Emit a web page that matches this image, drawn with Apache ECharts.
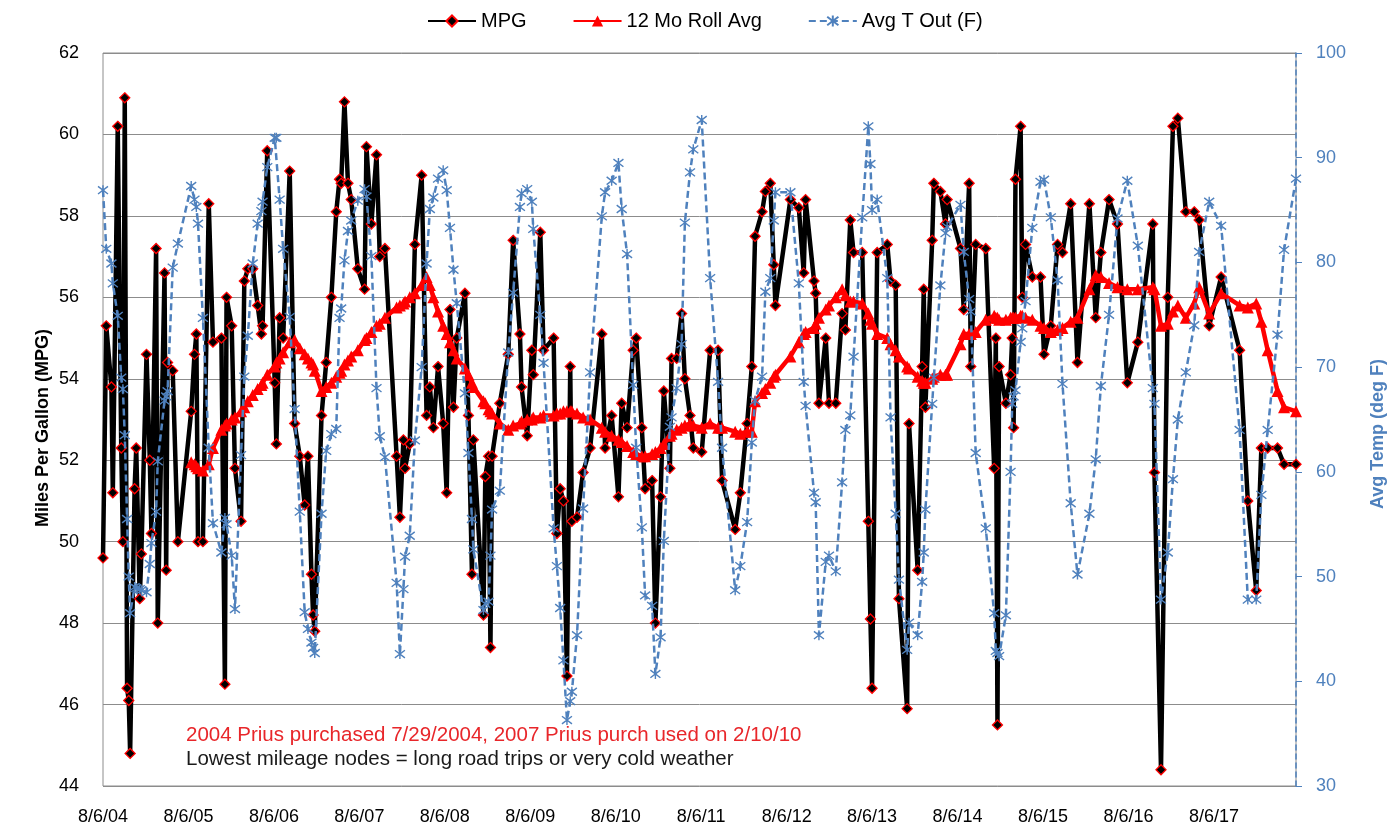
<!DOCTYPE html>
<html>
<head>
<meta charset="utf-8">
<title>Prius MPG history</title>
<script src="https://cdn.jsdelivr.net/npm/echarts@6/dist/echarts.min.js"></script>
<style>
  html, body { margin: 0; padding: 0; background: #fff; }
  #chart { width: 1392px; height: 832px; }
</style>
</head>
<body>
<div id="chart"></div>
<script>
// Fill-up dates
const fillDates = [
'2004-08-06','2004-08-20','2004-09-11','2004-09-17','2004-10-08','2004-10-23','2004-10-30','2004-11-07','2004-11-17','2004-11-24',
'2004-11-30','2004-12-19','2004-12-26','2005-01-10','2005-01-17','2005-02-08','2005-02-22','2005-03-01','2005-03-21','2005-03-28',
'2005-04-26','2005-05-03','2005-05-09','2005-05-31','2005-06-22','2005-08-18','2005-09-01','2005-09-09','2005-09-16','2005-10-07',
'2005-11-01','2005-11-19','2005-12-25','2006-01-09','2006-01-16','2006-02-07','2006-02-21','2006-03-19','2006-04-02','2006-04-17',
'2006-05-08','2006-05-29','2006-06-14','2006-06-19','2006-07-09','2006-08-10','2006-08-17','2006-08-31','2006-09-15','2006-10-13',
'2006-11-03','2006-11-25','2006-12-16','2006-12-30','2007-01-14','2007-01-21','2007-01-28','2007-02-26','2007-03-18','2007-04-09',
'2007-04-30','2007-05-14','2007-05-21','2007-06-04','2007-06-19','2007-07-03','2007-07-31','2007-08-29','2007-09-06','2007-09-27',
'2007-10-19','2007-11-02','2007-11-24','2008-01-13','2008-01-27','2008-02-11','2008-02-18','2008-03-09','2008-03-31','2008-04-29',
'2008-05-20','2008-06-03','2008-06-18','2008-07-08','2008-07-30','2008-08-14','2008-08-28','2008-09-12','2008-09-26','2008-10-31',
'2008-11-15','2008-11-30','2008-12-06','2009-01-18','2009-01-26','2009-02-09','2009-02-17','2009-02-24','2009-03-29','2009-05-04',
'2009-05-25','2009-06-23','2009-06-30','2009-07-24','2009-08-13','2009-08-19','2009-09-18','2009-10-02','2009-11-14','2009-11-28',
'2009-12-12','2009-12-26','2010-01-10','2010-01-24','2010-01-31','2010-02-22','2010-03-20','2010-04-19','2010-06-08','2010-06-22',
'2010-07-20','2010-08-18','2010-09-01','2010-09-24','2010-10-20','2010-11-02','2010-11-26','2010-12-10','2011-01-09','2011-01-23',
'2011-02-14','2011-02-28','2011-03-26','2011-04-02','2011-04-24','2011-05-15','2011-05-29','2011-06-20','2011-07-04','2011-08-09',
'2011-09-14','2011-10-18','2011-11-04','2011-12-30','2012-01-21','2012-02-19','2012-03-10','2012-03-24','2012-04-23','2012-05-07',
'2012-05-28','2012-06-12','2012-06-19','2012-08-22','2012-09-27','2012-10-18','2012-10-26','2012-12-01','2012-12-08','2012-12-22',
'2013-01-20','2013-02-03','2013-03-04','2013-03-31','2013-04-14','2013-05-05','2013-05-19','2013-06-25','2013-07-21','2013-07-30',
'2013-08-06','2013-08-28','2013-10-10','2013-10-24','2013-11-15','2013-11-29','2014-01-03','2014-01-11','2014-02-17','2014-03-08',
'2014-03-15','2014-03-22','2014-04-20','2014-04-27','2014-05-25','2014-06-16','2014-06-23','2014-08-19','2014-09-02','2014-09-25',
'2014-10-02','2014-10-23','2014-12-05','2015-01-10','2015-01-17','2015-01-24','2015-01-31','2015-03-01','2015-03-21','2015-03-28',
'2015-04-03','2015-04-11','2015-05-03','2015-05-10','2015-05-24','2015-06-22','2015-07-27','2015-08-11','2015-09-09','2015-10-08',
'2015-10-29','2015-12-03','2016-01-01','2016-02-21','2016-03-19','2016-04-10','2016-05-15','2016-06-20','2016-08-01','2016-09-15',
'2016-11-18','2016-11-25','2016-12-23','2017-01-21','2017-02-12','2017-03-05','2017-04-08','2017-05-14','2017-06-04','2017-07-17',
'2017-09-06','2017-11-24','2017-12-29','2018-02-03','2018-02-25','2018-03-24','2018-05-05','2018-06-02','2018-07-23'
];

// Miles per gallon for each tank
const mpgValues = [
49.6,55.3,53.8,51.2,60.2,52.3,50.0,60.9,46.4,46.1,
44.8,51.3,52.3,48.6,49.7,54.6,52.0,50.2,57.2,48.0,
56.6,49.3,54.4,54.2,50.0,53.2,54.6,55.1,50.0,50.0,
58.3,54.9,55.0,46.5,56.0,55.3,51.8,50.5,56.4,56.7,
56.7,55.8,55.1,55.3,59.6,53.9,52.4,55.5,55.0,59.1,
52.9,52.1,50.9,52.1,49.2,48.2,47.8,53.1,54.4,56.0,
58.1,58.9,58.8,60.8,58.8,58.4,56.7,56.2,59.7,57.8,
59.5,57.0,57.2,52.1,50.6,52.5,51.8,52.4,57.3,59.0,
53.1,53.8,52.8,54.3,52.9,51.2,55.7,53.3,55.0,56.1,
53.1,49.2,52.5,48.2,51.6,52.1,47.4,52.1,53.4,54.6,
57.4,55.1,53.8,52.6,54.7,54.1,57.6,54.7,55.0,50.2,
51.3,51.0,46.7,54.3,50.5,50.6,51.7,52.3,55.1,52.3,
53.1,51.1,53.4,52.8,54.7,55.0,52.8,51.3,51.5,48.0,
51.1,53.7,51.8,54.5,54.5,55.6,54.0,53.1,52.3,52.2,
54.7,54.7,51.5,50.3,51.2,52.9,54.3,57.5,58.1,58.6,
58.8,56.8,55.8,58.4,58.2,56.6,58.4,56.4,56.1,53.4,
55.0,53.4,53.4,55.6,55.2,57.9,57.1,57.1,50.5,48.1,
46.4,57.1,57.3,56.4,56.3,48.6,45.9,52.9,49.3,54.3,
56.2,53.3,57.4,58.8,58.6,57.8,58.4,57.2,55.7,58.8,
54.3,57.3,57.2,51.8,55.0,45.5,54.3,53.4,54.1,55.0,
52.8,58.9,60.2,56.0,57.3,56.5,56.5,54.6,55.3,57.3,
57.1,58.3,54.4,58.3,55.5,57.1,58.4,57.8,53.9,54.9,
57.8,51.7,44.4,56.0,60.2,60.4,58.1,58.1,57.9,55.3,
56.5,54.7,51.0,48.8,52.3,52.3,52.3,51.9,51.9
];

// 12 month rolling average of MPG (first year has no average yet)
const rollAvgValues = [
null,null,null,null,null,null,null,null,null,null,
null,null,null,null,null,null,null,null,null,null,
null,null,null,null,null,51.95,51.9,51.85,51.8,51.75,
51.9,52.3,52.75,52.85,52.9,53.0,53.05,53.2,53.3,53.45,
53.6,53.75,53.85,53.9,54.1,54.3,54.4,54.5,54.65,54.9,
54.95,54.75,54.6,54.5,54.4,54.35,54.2,53.7,53.8,53.9,
54.05,54.15,54.2,54.35,54.45,54.55,54.7,54.95,55.0,55.15,
55.3,55.35,55.5,55.75,55.8,55.85,55.9,56.0,56.1,56.3,
56.5,56.3,56.0,55.65,55.3,55.1,54.9,54.7,54.5,54.25,
54.1,53.9,53.8,53.45,53.4,53.25,53.2,53.15,52.9,52.75,
52.85,52.9,52.95,53.0,53.0,53.05,53.05,53.1,53.1,53.15,
53.15,53.2,53.2,53.2,53.2,53.15,53.05,53.0,52.8,52.7,
52.6,52.5,52.45,52.35,52.2,52.15,52.1,52.1,52.15,52.2,
52.3,52.4,52.6,52.65,52.75,52.8,52.85,52.9,52.85,52.8,
52.9,52.8,52.8,52.7,52.65,52.7,52.7,53.45,53.65,53.75,
53.9,54.05,54.1,54.55,54.9,55.1,55.15,55.25,55.35,55.5,
55.7,55.8,56.0,56.2,56.05,55.9,55.9,55.85,55.6,55.45,
55.35,55.1,55.0,54.85,54.7,54.55,54.3,54.25,54.05,53.95,
53.9,53.9,54.0,54.05,54.1,54.1,54.1,54.85,55.1,55.1,
55.1,55.15,55.45,55.55,55.5,55.5,55.45,55.45,55.5,55.5,
55.5,55.5,55.55,55.55,55.5,55.45,55.3,55.25,55.15,55.2,
55.25,55.4,55.5,56.2,56.55,56.5,56.35,56.25,56.2,56.2,
56.25,56.2,55.3,55.35,55.65,55.8,55.5,55.85,56.25,55.6,
56.1,55.8,55.75,55.85,55.4,54.7,53.7,53.3,53.2
];

// Average outdoor temperature over each tank (deg F)
const tempValues = [
86.9,81.3,79.9,78.0,74.9,69.0,67.9,63.5,55.5,50.0,
46.5,49.0,48.9,48.8,48.7,48.5,51.2,53.2,56.2,61.0,
66.8,67.2,67.7,79.5,81.8,87.3,86.0,85.3,83.7,74.7,
62.3,55.1,52.3,55.6,55.0,52.0,46.9,61.6,69.1,73.0,
79.9,83.7,84.9,85.8,89.1,91.9,91.9,86.0,81.3,74.8,
66.0,56.2,46.6,45.0,43.7,43.2,42.7,56.0,62.0,63.6,
64.1,74.7,75.6,80.2,83.0,84.0,85.9,87.0,86.3,80.6,
68.0,63.4,61.4,49.4,42.6,48.8,51.9,53.9,63.0,70.0,
79.9,85.1,86.2,88.0,88.8,86.9,83.3,79.3,76.1,67.5,
61.8,55.5,52.6,46.8,47.4,47.6,52.0,56.4,58.2,71.4,
77.1,85.3,86.6,87.0,85.8,83.2,75.0,70.4,54.6,51.0,
47.0,42.0,36.3,38.1,39.0,44.4,56.5,69.5,84.4,86.7,
87.8,89.5,85.1,80.8,68.3,62.3,54.7,48.2,47.2,40.7,
44.2,53.4,64.3,65.2,68.0,72.2,83.8,88.6,90.8,93.6,
78.5,68.6,62.3,48.7,51.0,55.2,62.8,66.8,69.1,77.2,
78.5,84.0,86.7,86.7,78.0,68.6,66.3,58.0,57.1,44.4,
51.4,52.0,50.5,59.0,64.0,65.4,71.0,84.3,93.0,89.4,
85.0,86.0,78.5,65.2,56.0,49.7,43.0,45.6,44.4,49.5,
52.3,56.4,66.5,69.0,77.8,82.8,83.4,85.5,81.0,76.5,
75.3,61.8,54.6,46.5,42.9,42.7,42.4,46.3,60.0,66.5,
67.2,67.8,72.4,73.7,76.3,83.3,87.7,87.9,84.3,78.3,
68.4,57.0,50.2,56.0,61.2,68.2,75.0,84.2,87.8,81.6,
68.0,66.5,47.8,52.3,59.3,65.0,69.5,74.0,81.0,85.8,
83.5,64.0,47.8,47.8,57.8,64.0,73.1,81.2,88.0
];

// Yearly tick labels along the date axis
const dateTickLabels = ['8/6/04','8/6/05','8/6/06','8/6/07','8/6/08','8/6/09','8/6/10',
                        '8/6/11','8/6/12','8/6/13','8/6/14','8/6/15','8/6/16','8/6/17'];

const noteLines = [
  '2004 Prius purchased 7/29/2004, 2007 Prius purch used on 2/10/10',
  'Lowest mileage nodes = long road trips or very cold weather'
];

// Dates become years elapsed since 8/6/04 so the yearly ticks land on 8/6 each year
const axisStart = Date.UTC(2004, 7, 6);
const YEAR_MS = 365.25 * 24 * 3600 * 1000;
function yearsSinceStart(iso) {
  const p = iso.split('-').map(Number);
  return (Date.UTC(p[0], p[1] - 1, p[2]) - axisStart) / YEAR_MS;
}
const xs = fillDates.map(yearsSinceStart);
const pairs = vals => xs.map((x, i) => [x, vals[i]]);

const FONT = "'Liberation Sans', Arial, sans-serif";
const BLUE = '#4F81BD';
const asterisk = 'path://M0,0L10,10M10,0L0,10M5,-1.5L5,11.5';

const chart = echarts.init(document.getElementById('chart'), null, { renderer: 'canvas' });
chart.setOption({
  animation: false,
  textStyle: { fontFamily: FONT },
  grid: {
    left: 103, right: 96, top: 53, bottom: 46,
    show: true, borderColor: '#8c8c8c', borderWidth: 1
  },
  legend: {
    top: 6, left: 422,
    itemWidth: 48, itemHeight: 14, itemGap: 46,
    textStyle: { fontSize: 20, color: '#000', fontFamily: FONT },
    data: ['MPG', '12 Mo Roll Avg', 'Avg T Out (F)']
  },
  xAxis: {
    type: 'value',
    min: 0,
    max: xs[xs.length - 1],
    interval: 1,
    axisLine: { show: false },
    axisTick: { show: false },
    splitLine: { show: false },
    axisLabel: {
      margin: 22, fontSize: 18, color: '#000', showMaxLabel: false,
      formatter: v => {
        const k = Math.round(v);
        return Math.abs(v - k) < 1e-6 && dateTickLabels[k] ? dateTickLabels[k] : '';
      }
    }
  },
  yAxis: [
    {
      type: 'value', min: 44, max: 62, interval: 2, position: 'left',
      axisLine: { show: false }, axisTick: { show: false },
      splitLine: { lineStyle: { color: '#8c8c8c', width: 1 } },
      axisLabel: { margin: 24, fontSize: 18, color: '#000' }
    },
    {
      type: 'value', min: 30, max: 100, interval: 10, position: 'right',
      axisLine: { show: true, lineStyle: { color: BLUE, type: [5, 4], width: 1.5 } },
      axisTick: { show: true, length: 6, lineStyle: { color: BLUE } },
      splitLine: { show: false },
      axisLabel: { margin: 20, fontSize: 18, color: BLUE }
    }
  ],
  graphic: [
    {
      type: 'text', rotation: Math.PI / 2, x: 43, y: 428,
      style: { text: 'Miles Per Gallon (MPG)', fill: '#000', font: "bold 18px " + FONT,
               textAlign: 'center', textVerticalAlign: 'middle' }
    },
    {
      type: 'text', rotation: Math.PI / 2, x: 1378, y: 434,
      style: { text: 'Avg Temp (deg F)', fill: BLUE, font: "bold 18px " + FONT,
               textAlign: 'center', textVerticalAlign: 'middle' }
    },
    {
      type: 'text', x: 186, y: 735,
      style: { text: noteLines[0], fill: '#e8262a', font: '20.5px ' + FONT, textVerticalAlign: 'middle' }
    },
    {
      type: 'text', x: 186, y: 759,
      style: { text: noteLines[1], fill: '#1a1a1a', font: '20.5px ' + FONT, textVerticalAlign: 'middle' }
    }
  ],
  series: [
    {
      name: 'MPG', type: 'line', yAxisIndex: 0, z: 2,
      data: pairs(mpgValues),
      symbol: 'diamond', symbolSize: 10,
      lineStyle: { color: '#000', width: 4.5 },
      itemStyle: { color: '#000', borderColor: '#ff0000', borderWidth: 1.3 }
    },
    {
      name: '12 Mo Roll Avg', type: 'line', yAxisIndex: 0, z: 3,
      data: pairs(rollAvgValues),
      symbol: 'triangle', symbolSize: 12,
      lineStyle: { color: '#ff0000', width: 4.5 },
      itemStyle: { color: '#ff0000', borderColor: '#ff0000', borderWidth: 0 }
    },
    {
      name: 'Avg T Out (F)', type: 'line', yAxisIndex: 1, z: 4,
      data: pairs(tempValues),
      symbol: asterisk, symbolSize: 10,
      lineStyle: { color: BLUE, width: 2.5, type: [7, 4] },
      itemStyle: { color: BLUE, borderColor: BLUE, borderWidth: 1.4 }
    }
  ]
});
</script>
</body>
</html>
